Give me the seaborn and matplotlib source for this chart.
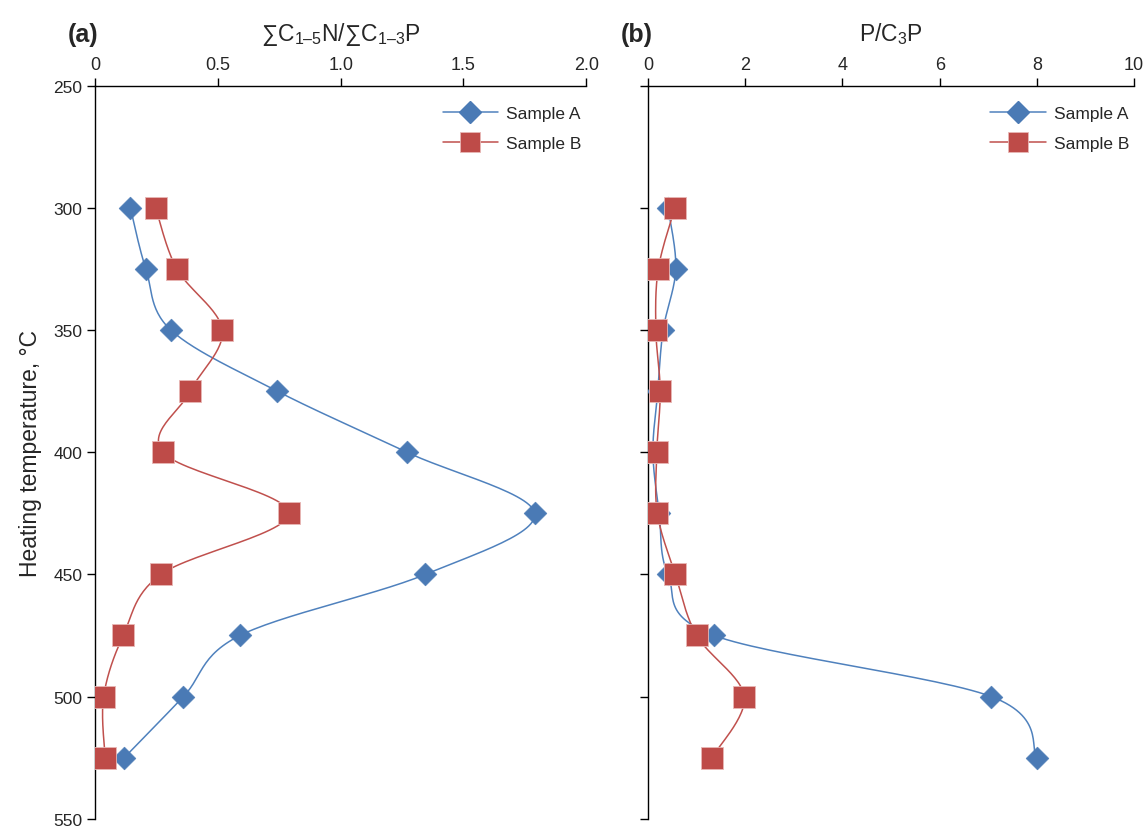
import numpy as np
import pandas as pd
import matplotlib
matplotlib.use("Agg")
import matplotlib.pyplot as plt
from matplotlib.lines import Line2D
import seaborn as sns

# data
temperature = [300, 325, 350, 375, 400, 425, 450, 475, 500, 525]

nc_ratio_a = [0.144, 0.207, 0.309, 0.742, 1.27, 1.79, 1.345, 0.59, 0.36, 0.119]
nc_ratio_b = [0.247, 0.333, 0.518, 0.388, 0.276, 0.789, 0.268, 0.115, 0.035, 0.041]

pc3p_a = [0.41, 0.57, 0.31, 0.20, 0.10, 0.23, 0.41, 1.36, 7.06, 8.0]
pc3p_b = [0.55, 0.21, 0.16, 0.25, 0.18, 0.19, 0.56, 1.0, 1.98, 1.31]

samples = ["Sample A", "Sample B"]
ytick_vals = [250, 300, 350, 400, 450, 500, 550]

BLUE = "#4a7ab5"
BLUE_LINE = "#4f81bd"
RED = "#be4b48"
RED_LINE = "#c0504d"

sns.set_style("white")
plt.rcParams["font.family"] = ["Liberation Sans", "DejaVu Sans"]
plt.rcParams["mathtext.fontset"] = "custom"
plt.rcParams["mathtext.rm"] = "Liberation Sans"
plt.rcParams["mathtext.it"] = "Liberation Sans"


def smooth_path(x, y, xspan, yspan, n=30):
    # Excel-style smoothed line: bezier through the points (catmull-rom, 1/6)
    u = np.asarray(x, float) / xspan
    v = np.asarray(y, float) / yspan
    p = np.column_stack([u, v])
    p = np.vstack([p[0], p, p[-1]])
    out = []
    t = np.linspace(0, 1, n)[:, None]
    for i in range(1, len(p) - 2):
        p0, p1, p2, p3 = p[i - 1], p[i], p[i + 1], p[i + 2]
        c1 = p1 + (p2 - p0) / 6.0
        c2 = p2 - (p3 - p1) / 6.0
        seg = ((1 - t) ** 3) * p1 + 3 * ((1 - t) ** 2) * t * c1 + 3 * (1 - t) * t ** 2 * c2 + t ** 3 * p2
        out.append(seg)
    out = np.vstack(out)
    return out[:, 0] * xspan, out[:, 1] * yspan


fig = plt.figure(figsize=(11.45, 8.28), dpi=100)
ax_a = fig.add_axes([0.0830, 0.0100, 0.4290, 0.8852])
ax_b = fig.add_axes([0.5660, 0.0100, 0.4245, 0.8852])

panels = [
    (ax_a, nc_ratio_a, nc_ratio_b, (0, 2.0), [0, 0.5, 1.0, 1.5, 2.0],
     ["0", "0.5", "1.0", "1.5", "2.0"],
     "\u2211C$_{\\mathregular{1\u20135}}$N/\u2211C$_{\\mathregular{1\u20133}}$P", "(a)"),
    (ax_b, pc3p_a, pc3p_b, (0, 10), [0, 2, 4, 6, 8, 10],
     ["0", "2", "4", "6", "8", "10"],
     "P/C$_{\\mathregular{3}}$P", "(b)"),
]

for ax, va, vb, xlim, xt, xtl, title, tag in panels:
    df = pd.DataFrame({
        "value": va + vb,
        "temperature": temperature * 2,
        "sample": [samples[0]] * len(va) + [samples[1]] * len(vb),
    })
    xspan = xlim[1] - xlim[0]
    # width/height of the axes in pixels used for the smoothing space
    w_px = ax.get_position().width * 1145
    h_px = ax.get_position().height * 828
    for s, col in zip(samples, [BLUE_LINE, RED_LINE]):
        sub = df[df["sample"] == s]
        sx, sy = smooth_path(sub["value"], sub["temperature"], xspan / w_px, 300 / h_px)
        ax.plot(sx, sy, color=col, lw=1.1, zorder=2)
    sub_a = df[df["sample"] == samples[0]]
    sub_b = df[df["sample"] == samples[1]]
    sns.scatterplot(x=sub_a["value"], y=sub_a["temperature"], marker="D", s=135,
                    color=BLUE, edgecolor=BLUE, linewidth=0.4, ax=ax, zorder=3)
    sns.scatterplot(x=sub_b["value"], y=sub_b["temperature"], marker="s", s=250,
                    color=RED, edgecolor="#e8b8b6", linewidth=0.6, ax=ax, zorder=4)

    ax.set_xlim(*xlim)
    ax.set_ylim(550, 250)
    ax.xaxis.tick_top()
    ax.set_xticks(xt)
    ax.set_xticklabels(xtl, fontsize=13)
    ax.set_yticks(ytick_vals)
    ax.set_xlabel("")
    ax.set_ylabel("")
    for side in ["right", "bottom"]:
        ax.spines[side].set_visible(False)
    for side in ["left", "top"]:
        ax.spines[side].set_linewidth(1.0)
        ax.spines[side].set_color("black")
    ax.tick_params(axis="both", direction="out", length=6, width=1.0, color="black",
                   left=True, top=True, bottom=False, right=False, pad=3)
    ax.text(0.5, 1.072, title, transform=ax.transAxes, ha="center", va="center", fontsize=16.5)
    ax.text(-0.024, 1.070, tag, transform=ax.transAxes, ha="center", va="center",
            fontsize=18, fontweight="bold")

    handles = [
        Line2D([], [], color=BLUE_LINE, lw=1.1, marker="D", markersize=11,
               markerfacecolor=BLUE, markeredgecolor=BLUE),
        Line2D([], [], color=RED_LINE, lw=1.1, marker="s", markersize=15,
               markerfacecolor=RED, markeredgecolor="#e8b8b6", markeredgewidth=0.6),
    ]
    ax.legend(handles, samples, loc="upper right", frameon=False, fontsize=12.5,
              handlelength=3.2, labelspacing=0.85, handletextpad=0.45,
              borderaxespad=0.0, bbox_to_anchor=(1.004, 0.982))

ax_a.set_yticklabels([str(v) for v in ytick_vals], fontsize=12.5)
ax_a.set_ylabel("Heating temperature, \u00b0C", fontsize=16.5, labelpad=8)
ax_b.set_yticklabels([])

fig.savefig("out.png", dpi=100)
